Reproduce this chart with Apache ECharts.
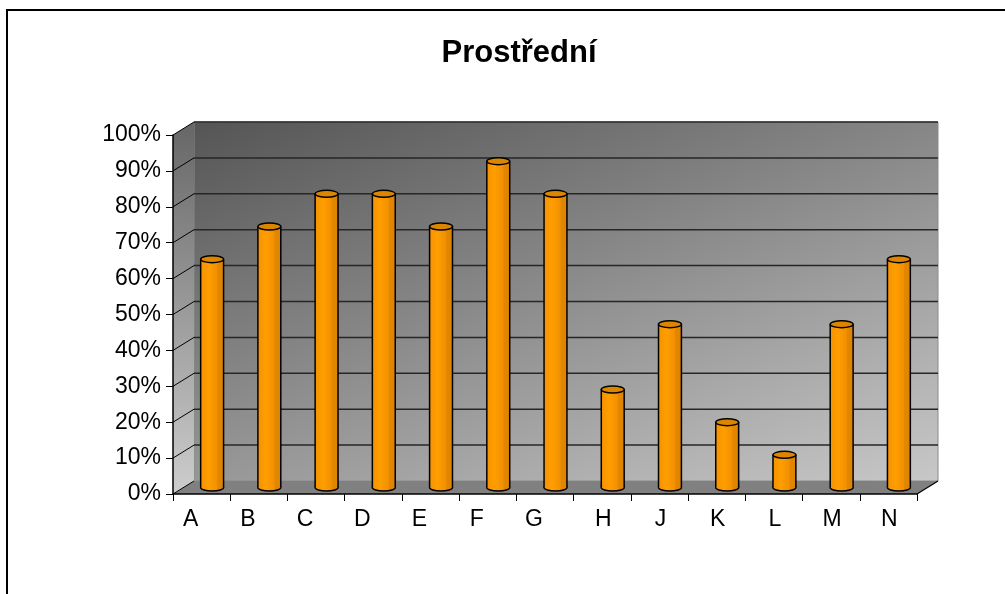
<!DOCTYPE html>
<html>
<head>
<meta charset="utf-8">
<script src="https://cdn.jsdelivr.net/npm/echarts@6/dist/echarts.min.js"></script>
<style>
  html, body { margin: 0; padding: 0; background: #fff; }
  #chart { width: 1005px; height: 594px; }
</style>
</head>
<body>
<div id="chart"></div>
<script>
const categories = ['A', 'B', 'C', 'D', 'E', 'F', 'G', 'H', 'J', 'K', 'L', 'M', 'N']
const values = [63.6, 72.7, 81.8, 81.8, 72.7, 90.9, 81.8, 27.3, 45.5, 18.2, 9.1, 45.5, 63.6]
const yTicks = [0, 10, 20, 30, 40, 50, 60, 70, 80, 90, 100]

// depth of the fake 3D box
const DX = 21
const DY = -13
const font = '"Liberation Sans", Arial, sans-serif'

const chart = echarts.init(document.getElementById('chart'))

function renderWalls (params, api) {
  const cs = params.coordSys
  const x0 = cs.x
  const x1 = cs.x + cs.width
  const yTop = cs.y
  const yBot = cs.y + cs.height
  const children = []
  // back wall, darker at top left, lighter toward bottom right
  const bx = x0 + DX
  const byTop = yTop + DY
  children.push({
    type: 'rect',
    shape: { x: bx, y: byTop, width: cs.width, height: cs.height },
    style: {
      fill: new echarts.graphic.LinearGradient(bx, byTop, bx + cs.width * 0.27, byTop + cs.height * 1.55, [
        { offset: 0, color: '#555555' },
        { offset: 1, color: '#c8c8c8' }
      ], true),
      stroke: '#8a8a8a',
      lineWidth: 1
    }
  })
  // side wall
  children.push({
    type: 'polygon',
    shape: { points: [[x0, yTop], [x0 + DX, yTop + DY], [x0 + DX, yBot + DY], [x0, yBot]] },
    style: {
      fill: new echarts.graphic.LinearGradient(1, 0, 0, 1, [
        { offset: 0, color: '#666666' },
        { offset: 1, color: '#cdcdcd' }
      ])
    }
  })
  // floor
  children.push({
    type: 'polygon',
    shape: { points: [[x0, yBot], [x1, yBot], [x1 + DX, yBot + DY], [x0 + DX, yBot + DY]] },
    style: { fill: '#808080' }
  })
  yTicks.forEach(t => {
    const y = api.coord([0, t])[1]
    if (t > 0) {
      children.push({
        type: 'line',
        shape: { x1: x0 + DX, y1: y + DY, x2: x1 + DX, y2: y + DY },
        style: { stroke: '#262626', lineWidth: 1.5 }
      })
    }
    children.push({
      type: 'line',
      shape: { x1: x0, y1: y, x2: x0 + DX, y2: y + DY },
      style: { stroke: '#000', lineWidth: 1 }
    })
  })
  children.push({
    type: 'line',
    shape: { x1: x1, y1: yBot, x2: x1 + DX, y2: yBot + DY },
    style: { stroke: '#000', lineWidth: 1.2 }
  })
  return { type: 'group', children }
}

function renderBar (params, api) {
  const top = api.coord([api.value(0), api.value(1)])
  const base = api.coord([api.value(0), 0])
  const w = api.size([1, 0])[0] * 0.4
  const cx = top[0] + DX / 2
  const ty = top[1] + DY / 2
  const by = base[1] + DY / 2
  const rx = w / 2
  const ry = 3.5
  const body = new echarts.graphic.LinearGradient(0, 0, 1, 0, [
    { offset: 0, color: '#f59200' },
    { offset: 0.35, color: '#ff9e00' },
    { offset: 0.7, color: '#f29000' },
    { offset: 0.75, color: '#e38700' },
    { offset: 1, color: '#dc8300' }
  ])
  return {
    type: 'group',
    children: [
      { type: 'ellipse', shape: { cx: cx, cy: by, rx: rx, ry: ry }, style: { fill: body, stroke: '#000', lineWidth: 1.5 } },
      { type: 'rect', shape: { x: cx - rx, y: ty, width: w, height: by - ty }, style: { fill: body } },
      { type: 'line', shape: { x1: cx - rx, y1: ty, x2: cx - rx, y2: by }, style: { stroke: '#000', lineWidth: 1.5 } },
      { type: 'line', shape: { x1: cx + rx, y1: ty, x2: cx + rx, y2: by }, style: { stroke: '#000', lineWidth: 1.5 } },
      { type: 'ellipse', shape: { cx: cx, cy: ty, rx: rx, ry: ry }, style: { fill: '#dc8500', stroke: '#000', lineWidth: 1.5 } }
    ]
  }
}

const option = {
  backgroundColor: '#fff',
  animation: false,
  title: {
    text: 'Prostřední',
    left: 514,
    top: 33,
    textAlign: 'center',
    textStyle: { fontFamily: font, fontSize: 31, fontWeight: 'bold', color: '#000' }
  },
  graphic: [
    {
      type: 'rect',
      shape: { x: 7, y: 10, width: 1100, height: 700 },
      style: { fill: 'none', stroke: '#000', lineWidth: 2 },
      silent: true
    }
  ],
  grid: {
    left: 173,
    right: 88,
    top: 135,
    bottom: 100
  },
  xAxis: {
    type: 'category',
    data: categories,
    axisLine: { show: true, lineStyle: { color: '#000', width: 1.5 } },
    axisTick: { show: true, length: 7, lineStyle: { color: '#000' } },
    axisLabel: {
      interval: 0,
      margin: 14,
      color: '#000',
      fontFamily: font,
      fontSize: 23,
      formatter: (v, i) => (i < 7 ? '{a|' + v + '}' : '{b|' + v + '}'),
      rich: {
        a: { fontFamily: font, fontSize: 23, color: '#000', padding: [0, 22, 0, 0] },
        b: { fontFamily: font, fontSize: 23, color: '#000', padding: [0, 0, 0, 2] }
      }
    },
    z: 5
  },
  yAxis: {
    type: 'value',
    min: 0,
    max: 100,
    interval: 10,
    axisLine: { show: true, lineStyle: { color: '#000', width: 1.5 } },
    axisTick: { show: true, length: 7, lineStyle: { color: '#000' } },
    splitLine: { show: false },
    axisLabel: {
      margin: 12,
      color: '#000',
      fontFamily: font,
      fontSize: 23,
      formatter: '{value}%'
    },
    z: 5
  },
  series: [
    {
      name: 'walls',
      type: 'custom',
      renderItem: renderWalls,
      data: [[0, 0]],
      silent: true,
      z: 1
    },
    {
      name: 'Prostřední',
      type: 'custom',
      renderItem: renderBar,
      data: values.map((v, i) => [i, v]),
      z: 3
    }
  ]
}

chart.setOption(option)
window.addEventListener('resize', chart.resize)
</script>
</body>
</html>
